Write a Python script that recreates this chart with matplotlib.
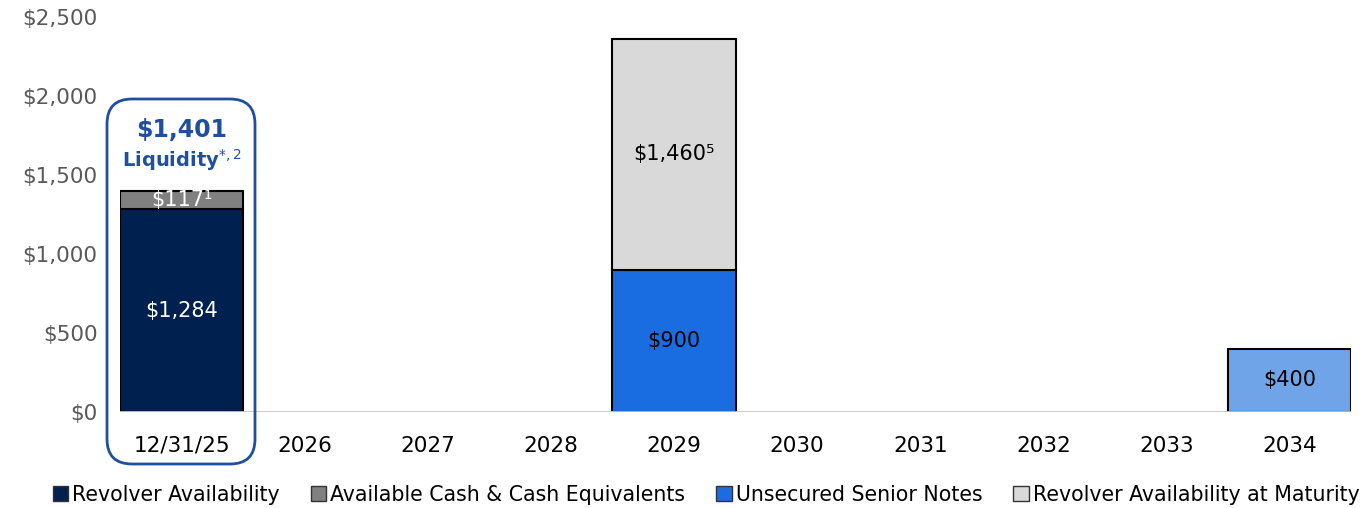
import matplotlib
matplotlib.use("Agg")
import matplotlib.pyplot as plt
from matplotlib.patches import FancyBboxPatch, Patch
import numpy as np

plt.rcParams['font.family'] = ['DejaVu Sans']

# data ($ millions)
categories = ["12/31/25", "2026", "2027", "2028", "2029", "2030", "2031", "2032", "2033", "2034"]
revolver = [1284, 0, 0, 0, 0, 0, 0, 0, 0, 0]
cash = [117, 0, 0, 0, 0, 0, 0, 0, 0, 0]
notes = [0, 0, 0, 0, 900, 0, 0, 0, 0, 400]
revolver_maturity = [0, 0, 0, 0, 1460, 0, 0, 0, 0, 0]
liquidity_total = 1401
yticks = [0, 500, 1000, 1500, 2000, 2500]

c_rev = "#002050"
c_cash = "#808080"
c_notes = "#1a6de0"
c_notes_2034 = "#6fa5e8"
c_mat = "#d9d9d9"
c_blue_txt = "#1f4fa3"

fig = plt.figure(figsize=(13.71, 5.08), dpi=100)
ax = fig.add_axes([0.0875, 0.189, 0.898, 0.7775])

x = np.arange(len(categories))
rev = np.array(revolver)
csh = np.array(cash)
nts = np.array(notes)
mat = np.array(revolver_maturity)

kw = dict(width=1.0, edgecolor="black", linewidth=1.5, zorder=3)
m = rev > 0
ax.bar(x[m], rev[m], color=c_rev, **kw)
m = csh > 0
ax.bar(x[m], csh[m], bottom=rev[m], color=c_cash, **kw)
note_colors = [c_notes if c != "2034" else c_notes_2034 for c in categories]
m = nts > 0
ax.bar(x[m], nts[m], color=np.array(note_colors)[m], **kw)
m = mat > 0
ax.bar(x[m], mat[m], bottom=nts[m], color=c_mat, **kw)

ax.axhline(0, color="#c8c8c8", linewidth=2, zorder=4)

# labels in bars
fs = 15
for i in range(len(categories)):
    if rev[i]:
        ax.text(x[i], rev[i] / 2, f"${rev[i]:,}", ha="center", va="center", color="white", fontsize=fs, zorder=5)
    if csh[i]:
        ax.text(x[i], rev[i] + csh[i] / 2, f"${csh[i]:,}¹", ha="center", va="center", color="white", fontsize=fs, zorder=5)
    if nts[i]:
        ax.text(x[i], nts[i] / 2, f"${nts[i]:,}", ha="center", va="center", color="black", fontsize=fs, zorder=5)
    if mat[i]:
        ax.text(x[i], nts[i] + mat[i] / 2, f"${mat[i]:,}⁵", ha="center", va="center", color="black", fontsize=fs, zorder=5)

# liquidity callout
ax.text(0, 1785, f"${liquidity_total:,}", ha="center", va="center", color=c_blue_txt, fontsize=17, fontweight="bold")
ax.text(0, 1595, r"Liquidity$^{*,2}$", ha="center", va="center", color=c_blue_txt, fontsize=14, fontweight="bold")
box = FancyBboxPatch((1.07 + 0.2, 0.44 + 0.2), 1.48 - 0.4, 3.65 - 0.4,
                     boxstyle="round,pad=0.2,rounding_size=0.25",
                     transform=fig.dpi_scale_trans, facecolor="none",
                     edgecolor=c_blue_txt, linewidth=2, zorder=10)
fig.patches.append(box)

ax.set_xlim(-0.5, len(categories) - 0.5)
ax.set_ylim(0, 2500)
ax.set_yticks(yticks)
ax.set_yticklabels([f"${v:,}" for v in yticks], color="#595959", fontsize=15.5)
ax.set_xticks(x)
ax.set_xticklabels(categories, fontsize=15.5, color="black")
ax.tick_params(axis="both", length=0)
ax.tick_params(axis="x", pad=17)
ax.tick_params(axis="y", pad=16)
for s in ax.spines.values():
    s.set_visible(False)

handles = [Patch(facecolor=c_rev, edgecolor="#333333"),
           Patch(facecolor=c_cash, edgecolor="#333333"),
           Patch(facecolor=c_notes, edgecolor="#333333"),
           Patch(facecolor=c_mat, edgecolor="#333333")]
labels = ["Revolver Availability", "Available Cash & Cash Equivalents",
          "Unsecured Senior Notes", "Revolver Availability at Maturity"]
fig.legend(handles, labels, loc="lower center", bbox_to_anchor=(0.515, -0.03), ncol=4,
           frameon=False, fontsize=14.8, handlelength=0.75, handleheight=0.75,
           handletextpad=0.2, columnspacing=1.5)

fig.savefig("out.png", dpi=100)
